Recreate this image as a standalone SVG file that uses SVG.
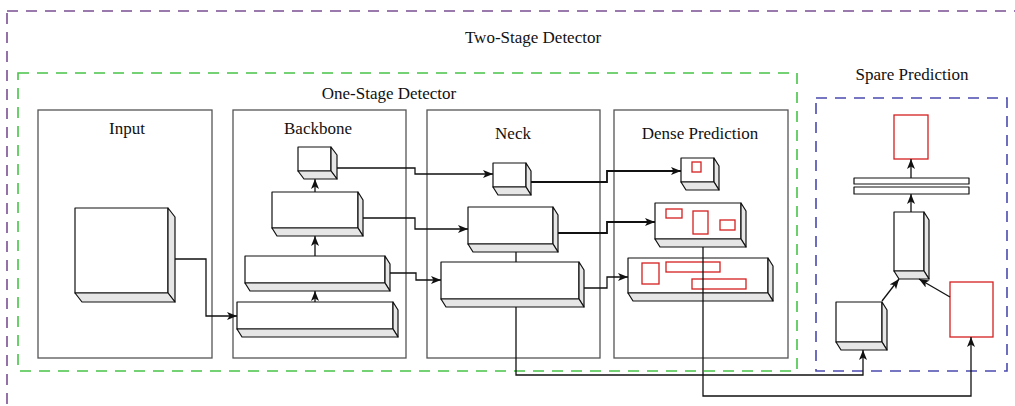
<svg xmlns="http://www.w3.org/2000/svg" width="1015" height="406" viewBox="0 0 1015 406">
<style>
text{font-family:"Liberation Serif","Times New Roman",serif;font-size:17px;fill:#111;text-anchor:middle}
.panel{fill:#fff;stroke:#555;stroke-width:1.3}
.face{fill:#fff;stroke:#111;stroke-width:1.2;stroke-linejoin:round}
.side{fill:#e6e6e6;stroke:#111;stroke-width:1.2;stroke-linejoin:round}
.red{fill:#fff;stroke:#d42020;stroke-width:1.3}
.conn{fill:none;stroke:#111;stroke-width:1.3}
.thick{stroke-width:1.8}
.arr{marker-end:url(#ah)}
</style>
<defs>
<marker id="ah" markerUnits="userSpaceOnUse" markerWidth="11" markerHeight="9" refX="10" refY="4" orient="auto">
<path d="M0,0 L10,4 L0,8 L2.5,4 z" fill="#111"/>
</marker>
</defs>
<rect width="1015" height="406" fill="#fff"/>
<g id="two-stage">
<rect x="7" y="11" width="1020" height="402" fill="none" stroke="#7a4f92" stroke-width="1.6" stroke-dasharray="11 8"/>
<text x="533" y="43">Two-Stage Detector</text>
</g>
<g id="one-stage">
<rect x="18" y="73" width="779" height="298" fill="none" stroke="#47c447" stroke-width="1.6" stroke-dasharray="11 8"/>
<text x="389" y="99">One-Stage Detector</text>
</g>
<g id="spare">
<text x="912" y="80">Spare Prediction</text>
<rect x="816" y="98" width="191" height="273" fill="none" stroke="#4a4aae" stroke-width="1.6" stroke-dasharray="11 8"/>
</g>
<g id="input">
<rect class="panel" x="38" y="110" width="174" height="248"/>
<text x="127" y="134">Input</text>
<g id="input-cube">
<rect class="face" x="75" y="208" width="93" height="85"/>
<polygon class="side" points="168,208 175,217 175,302 168,293"/>
<polygon class="side" points="75,293 168,293 175,302 82,302"/>
</g>
</g>
<g id="backbone">
<rect class="panel" x="233" y="110" width="173" height="248"/>
<text x="318" y="134">Backbone</text>
<g id="b1"><rect class="face" x="298" y="147" width="33" height="24"/><polygon class="side" points="331,147 337,155 337,179 331,171"/><polygon class="side" points="298,171 331,171 337,179 304,179"/></g>
<g id="b2"><rect class="face" x="272" y="192" width="86" height="36"/><polygon class="side" points="358,192 363,200 363,236 358,228"/><polygon class="side" points="272,228 358,228 363,236 277,236"/></g>
<g id="b3"><rect class="face" x="245" y="256" width="140" height="27"/><polygon class="side" points="385,256 390,264 390,291 385,283"/><polygon class="side" points="245,283 385,283 390,291 250,291"/></g>
<g id="b4"><rect class="face" x="237" y="302" width="156" height="27"/><polygon class="side" points="393,302 398,310 398,337 393,329"/><polygon class="side" points="237,329 393,329 398,337 242,337"/></g>
</g>
<g id="neck">
<rect class="panel" x="427" y="110" width="173" height="248"/>
<text x="513" y="139">Neck</text>
<g id="n1"><rect class="face" x="493" y="163" width="33" height="24"/><polygon class="side" points="526,163 531,171 531,195 526,187"/><polygon class="side" points="493,187 526,187 531,195 498,195"/></g>
<g id="n2"><rect class="face" x="468" y="207" width="85" height="37"/><polygon class="side" points="553,207 558,215 558,252 553,244"/><polygon class="side" points="468,244 553,244 558,252 473,252"/></g>
<g id="n3"><rect class="face" x="441" y="262" width="138" height="37"/><polygon class="side" points="579,262 584,270 584,307 579,299"/><polygon class="side" points="441,299 579,299 584,307 446,307"/></g>
</g>
<g id="dense">
<rect class="panel" x="614" y="110" width="174" height="248"/>
<text x="700" y="139">Dense Prediction</text>
<g id="d1"><rect class="face" x="681" y="158" width="33" height="24"/><polygon class="side" points="714,158 719,166 719,190 714,182"/><polygon class="side" points="681,182 714,182 719,190 686,190"/>
<rect class="red" x="692" y="162" width="9" height="10"/></g>
<g id="d2"><rect class="face" x="655" y="203" width="86" height="36"/><polygon class="side" points="741,203 746,211 746,247 741,239"/><polygon class="side" points="655,239 741,239 746,247 660,247"/>
<rect class="red" x="666" y="209" width="16" height="9"/><rect class="red" x="693" y="211" width="15" height="23"/><rect class="red" x="720" y="220" width="15" height="10"/></g>
<g id="d3"><rect class="face" x="628" y="258" width="140" height="35"/><polygon class="side" points="768,258 773,266 773,301 768,293"/><polygon class="side" points="628,293 768,293 773,301 633,301"/>
<rect class="red" x="642" y="263" width="17" height="21"/><rect class="red" x="666" y="262" width="54" height="10"/><rect class="red" x="692" y="279" width="54" height="10"/></g>
</g>
<g id="spare-nodes">
<g id="s-out"><rect class="red" x="894" y="115" width="34" height="44"/></g>
<g id="s-bar"><rect class="face" x="854" y="178" width="115" height="6"/><rect class="face" x="854" y="187" width="115" height="7"/></g>
<g id="s-vert"><rect class="face" x="894" y="212" width="30" height="59"/><polygon class="side" points="924,212 929,220 929,279 924,271"/><polygon class="side" points="894,271 924,271 929,279 899,279"/></g>
<g id="s-cube"><rect class="face" x="836" y="302" width="46" height="40"/><polygon class="side" points="882,302 887,310 887,350 882,342"/><polygon class="side" points="836,342 882,342 887,350 841,350"/></g>
<g id="s-red"><rect class="red" x="950" y="282" width="43" height="55"/></g>
</g>
<g id="connectors">
<path class="conn arr" d="M175,259 H206 V316 H237"/>
<path class="conn arr" d="M315,302 V291"/>
<path class="conn arr" d="M315,256 V236"/>
<path class="conn arr" d="M315,192 V179"/>
<path class="conn arr" d="M337,168 H415 V174 H493"/>
<path class="conn arr" d="M363,218 H415 V229 H468"/>
<path class="conn arr" d="M390,273 H416 V280 H441"/>
<path class="conn thick arr" d="M531,182 H607 V171 H681"/>
<path class="conn thick arr" d="M558,233 H607 V222 H655"/>
<path class="conn arr" d="M584,288 H607 V277 H628"/>
<path class="conn" d="M516,252 V262"/>
<path class="conn arr" d="M516,307 V375 H863 V350"/>
<path class="conn arr" d="M703,247 V396 H971 V337"/>
<path class="conn arr" d="M882,301 L899,279"/>
<path class="conn arr" d="M950,297 L919,279"/>
<path class="conn arr" d="M911,212 V194"/>
<path class="conn arr" d="M911,178 V159"/>
</g>
</svg>
